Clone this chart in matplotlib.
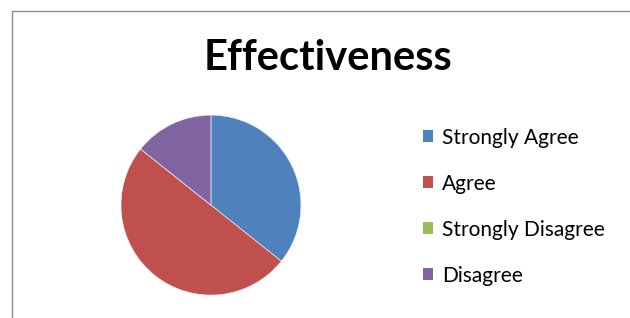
import matplotlib.pyplot as plt
from matplotlib.patches import Rectangle
from matplotlib.lines import Line2D

# Survey answers
labels = ['Strongly Agree', 'Agree', 'Strongly Disagree', 'Disagree']
counts = [5, 7, 0, 2]
colors = ['#4F81BD', '#C0504D', '#9BBB59', '#8064A2']
title = 'Effectiveness'

plt.rcParams['font.family'] = ['Lato', 'DejaVu Sans']

fig = plt.figure(figsize=(6.3, 3.18), dpi=100)

# chart frame: only left and top edges are visible
x0, y0 = 11.5 / 630, 1 - 10.5 / 318
fig.add_artist(Line2D([x0, x0, 1.05], [-0.05, y0, y0], transform=fig.transFigure,
                      color='#8c8c8c', linewidth=1.0, solid_capstyle='butt'))

ax = fig.add_axes([0.192, 0.072, 0.2857, 0.566])
wedges, _ = ax.pie(counts, colors=colors, startangle=90, counterclock=False,
                   wedgeprops=dict(edgecolor='#e8e8f0', linewidth=0.5))
ax.set_xlim(-1, 1)
ax.set_ylim(-1, 1)
ax.set_aspect('equal')

fig.text(0.52, 0.818, title, ha='center', va='center', fontsize=30, fontweight='bold')

handles = [Rectangle((0, 0), 1, 1, facecolor=c, edgecolor='none') for c in colors]
fig.legend(handles, labels, loc='center left', bbox_to_anchor=(0.641, 0.35),
           frameon=False, fontsize=15, handlelength=0.5, handleheight=0.5,
           handletextpad=0.45, labelspacing=1.25)

fig.savefig('out.png', dpi=100)
